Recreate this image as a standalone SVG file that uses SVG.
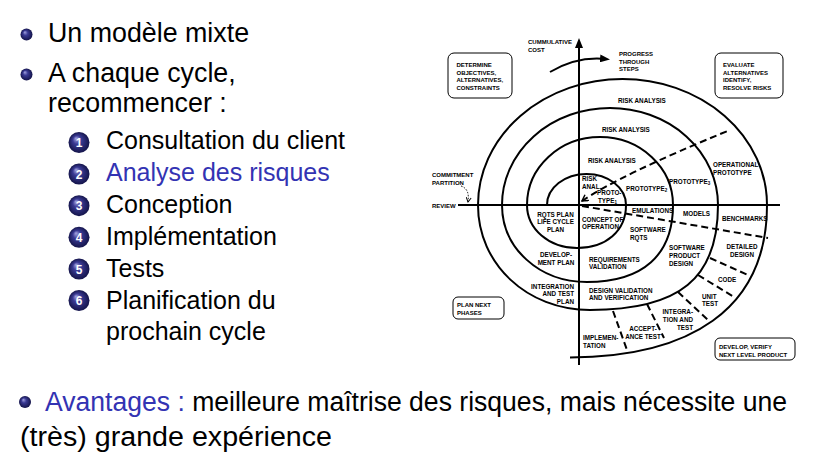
<svg xmlns="http://www.w3.org/2000/svg" width="813" height="472" viewBox="0 0 813 472">
<defs>
  <radialGradient id="ball" cx="0.5" cy="0.5" r="0.5" fx="0.35" fy="0.3">
    <stop offset="0" stop-color="#a4a4e0"/>
    <stop offset="0.4" stop-color="#3a3a94"/>
    <stop offset="1" stop-color="#14144a"/>
  </radialGradient>
  <marker id="tri" viewBox="0 0 10 8" refX="6" refY="4" markerWidth="10" markerHeight="8" markerUnits="userSpaceOnUse" orient="auto">
    <path d="M0,0 L10,4 L0,8 z" fill="#000"/>
  </marker>
  <marker id="vee" viewBox="0 0 8 8" refX="7" refY="4" markerWidth="8" markerHeight="8" markerUnits="userSpaceOnUse" orient="auto-start-reverse">
    <path d="M1,0.5 L7,4 L1,7.5" fill="none" stroke="#000" stroke-width="1.5"/>
  </marker>
  <marker id="vee2" viewBox="0 0 6 6" refX="5" refY="3" markerWidth="6" markerHeight="6" markerUnits="userSpaceOnUse" orient="auto">
    <path d="M0.5,0.5 L5,3 L0.5,5.5" fill="none" stroke="#000" stroke-width="1"/>
  </marker>
</defs>
<style>
  .m{font-family:"Liberation Sans",Arial,sans-serif;font-size:26.8px;fill:#000}
  .n{font-size:25px}
  .blue{fill:#3333b3}
  .num{font-family:"Liberation Sans",Arial,sans-serif;font-size:12px;font-weight:bold;fill:#fff;text-anchor:middle}
  .s{font-family:"Liberation Sans",Arial,sans-serif;font-size:6.3px;font-weight:bold;fill:#000}
  .b{font-size:6px}
  .sub{font-size:4.5px}
  .c{text-anchor:middle}
  .r{text-anchor:end}
  .line{fill:none;stroke:#000;stroke-width:2}
  .dash{fill:none;stroke:#000;stroke-width:2;stroke-dasharray:7 4}
  .box{fill:#fff;stroke:#000;stroke-width:1}
</style>
<rect width="813" height="472" fill="#fff"/>

<!-- Left text -->
<g id="bullets">
  <circle cx="26.5" cy="34.5" r="6" fill="url(#ball)"/>
  <text class="m" x="48" y="41.5">Un modèle mixte</text>
  <circle cx="26.5" cy="74.5" r="6" fill="url(#ball)"/>
  <text class="m" x="48" y="81.5">A chaque cycle,</text>
  <text class="m" x="48" y="111.5">recommencer :</text>
</g>
<g id="steps">
  <circle cx="79" cy="142.5" r="10.5" fill="url(#ball)"/><text class="num" x="79" y="147">1</text>
  <text class="m n" x="106" y="149">Consultation du client</text>
  <circle cx="79" cy="174" r="10.5" fill="url(#ball)"/><text class="num" x="79" y="178.5">2</text>
  <text class="m n blue" x="106" y="181">Analyse des risques</text>
  <circle cx="79" cy="205.7" r="10.5" fill="url(#ball)"/><text class="num" x="79" y="210.2">3</text>
  <text class="m n" x="106" y="213">Conception</text>
  <circle cx="79" cy="237.3" r="10.5" fill="url(#ball)"/><text class="num" x="79" y="241.8">4</text>
  <text class="m n" x="106" y="245">Implémentation</text>
  <circle cx="79" cy="269" r="10.5" fill="url(#ball)"/><text class="num" x="79" y="273.5">5</text>
  <text class="m n" x="106" y="276.5">Tests</text>
  <circle cx="79" cy="300.5" r="10.5" fill="url(#ball)"/><text class="num" x="79" y="305">6</text>
  <text class="m n" x="106" y="308.5">Planification du</text>
  <text class="m n" x="106" y="340">prochain cycle</text>
</g>
<g id="avantages">
  <circle cx="25" cy="402" r="6" fill="url(#ball)"/>
  <text class="m" x="45" y="411" font-size="26.5" textLength="742" lengthAdjust="spacingAndGlyphs"><tspan class="blue">Avantages :</tspan> meilleure maîtrise des risques, mais nécessite une</text>
  <text class="m" x="20" y="446" textLength="312" lengthAdjust="spacingAndGlyphs">(très) grande expérience</text>
</g>

<!-- Spiral diagram -->
<g id="connectors">
  <path id="spiral" class="line" d="M547,205 A39.5,31 0 0 1 626,205 C626,231 606,248 577,248 C549,248 527,229 527,205 A73,68 0 0 1 673,205 C673,255 643,282 587,282 C539,282 502,248 502,205 A108,97 0 0 1 718,205 C718,278.5 679.6,310 590,310 C527,310 478,264 478,205 A144.5,126 0 0 1 767,205 C767,311 688,357 570,357.5"/>
  <path id="axis-v" class="line" d="M579,365 L579,42" marker-end="url(#tri)"/>
  <path id="axis-h" class="line" d="M458,205 L780,205"/>
  <path id="progress" class="line" d="M550,72 Q577,56 606,59" marker-end="url(#tri)"/>
  <path id="commit" fill="none" stroke="#000" stroke-width="1" stroke-dasharray="1.5 1.5" d="M461,186 Q470,189 468,202" marker-end="url(#vee2)"/>
  <path class="dash" d="M582,201 Q620,175 730,130" marker-start="url(#vee)"/>
  <path class="dash" d="M582,206 L768,238"/>
  <path class="dash" d="M710,258 L748,275"/>
  <path class="dash" d="M698,275 L734,297"/>
  <path class="dash" d="M678,292 L709,321"/>
  <path class="dash" d="M647,304 L664,338"/>
  <path class="dash" d="M613,311 L627,350"/>
</g>

<g id="axis-labels">
  <text class="s b" x="528" y="44">CUMMULATIVE</text>
  <text class="s b" x="528" y="51.5">COST</text>
  <text class="s b" x="619" y="56">PROGRESS</text>
  <text class="s b" x="619" y="63.5">THROUGH</text>
  <text class="s b" x="619" y="71">STEPS</text>
  <text class="s b" x="432" y="176.5">COMMITMENT</text>
  <text class="s b" x="432" y="184.5">PARTITION</text>
  <text class="s b" x="432" y="207.5">REVIEW</text>
</g>

<g id="box-determine">
  <rect class="box" x="448" y="53" width="64" height="45" rx="6"/>
  <text class="s b" x="456.5" y="66.5">DETERMINE</text>
  <text class="s b" x="456.5" y="74.5">OBJECTIVES,</text>
  <text class="s b" x="456.5" y="82">ALTERNATIVES,</text>
  <text class="s b" x="456.5" y="89.5">CONSTRAINTS</text>
</g>
<g id="box-evaluate">
  <rect class="box" x="715" y="53" width="68" height="45" rx="6"/>
  <text class="s b" x="723" y="66.5">EVALUATE</text>
  <text class="s b" x="723" y="74.5">ALTERNATIVES</text>
  <text class="s b" x="723" y="82">IDENTIFY,</text>
  <text class="s b" x="723" y="89.5">RESOLVE RISKS</text>
</g>
<g id="box-plan">
  <rect class="box" x="453" y="297" width="51" height="22" rx="5"/>
  <text class="s b" x="457" y="306.5">PLAN NEXT</text>
  <text class="s b" x="457" y="314.5">PHASES</text>
</g>
<g id="box-develop">
  <rect class="box" x="715" y="338" width="80" height="22" rx="5"/>
  <text class="s b" x="719" y="349">DEVELOP, VERIFY</text>
  <text class="s b" x="719" y="356.5">NEXT LEVEL PRODUCT</text>
</g>

<g id="spiral-labels">
  <text class="s" x="618" y="102.5">RISK ANALYSIS</text>
  <text class="s" x="602" y="131.5">RISK ANALYSIS</text>
  <text class="s" x="588" y="163">RISK ANALYSIS</text>
  <text class="s" x="582" y="180.5">RISK</text>
  <text class="s" x="582" y="188.5">ANAL.</text>
  <text class="s" x="597" y="195">PROTO-</text>
  <text class="s" x="598" y="202.5">TYPE<tspan class="sub" dy="1.5">1</tspan></text>
  <text class="s" x="626" y="190.5">PROTOTYPE<tspan class="sub" dy="1.5">2</tspan></text>
  <text class="s" x="669" y="183.5">PROTOTYPE<tspan class="sub" dy="1.5">3</tspan></text>
  <text class="s" x="713" y="166.5">OPERATIONAL</text>
  <text class="s" x="713" y="174.5">PROTOTYPE</text>
  <text class="s" x="632" y="212.5">EMULATIONS</text>
  <text class="s" x="683" y="216">MODELS</text>
  <text class="s" x="722" y="221">BENCHMARKS</text>
  <text class="s c" x="555.5" y="216.5">RQTS PLAN</text>
  <text class="s c" x="555.5" y="224">LIFE CYCLE</text>
  <text class="s c" x="555.5" y="231.5">PLAN</text>
  <text class="s" x="582" y="221.5">CONCEPT OF</text>
  <text class="s" x="582" y="229">OPERATION</text>
  <text class="s" x="630" y="231.5">SOFTWARE</text>
  <text class="s" x="630" y="239.5">RQTS</text>
  <text class="s c" x="556" y="256.5">DEVELOP-</text>
  <text class="s c" x="556" y="265">MENT PLAN</text>
  <text class="s" x="589" y="261.5">REQUIREMENTS</text>
  <text class="s" x="589" y="269">VALIDATION</text>
  <text class="s" x="669" y="249.5">SOFTWARE</text>
  <text class="s" x="669" y="257.5">PRODUCT</text>
  <text class="s" x="669" y="265.5">DESIGN</text>
  <text class="s c" x="742" y="249">DETAILED</text>
  <text class="s c" x="742" y="256.5">DESIGN</text>
  <text class="s r" x="574" y="288.5">INTEGRATION</text>
  <text class="s r" x="574" y="296">AND TEST</text>
  <text class="s r" x="574" y="303.5">PLAN</text>
  <text class="s" x="589" y="292.5">DESIGN VALIDATION</text>
  <text class="s" x="589" y="300">AND VERIFICATION</text>
  <text class="s" x="718" y="281.5">CODE</text>
  <text class="s" x="702" y="298.5">UNIT</text>
  <text class="s" x="702" y="306">TEST</text>
  <text class="s r" x="693" y="313.5">INTEGRA-</text>
  <text class="s r" x="693" y="321.5">TION AND</text>
  <text class="s r" x="693" y="329.5">TEST</text>
  <text class="s c" x="643" y="330.5">ACCEPT-</text>
  <text class="s c" x="643" y="338.5">ANCE TEST</text>
  <text class="s" x="583" y="340">IMPLEMEN-</text>
  <text class="s" x="583" y="348">TATION</text>
</g>
</svg>
